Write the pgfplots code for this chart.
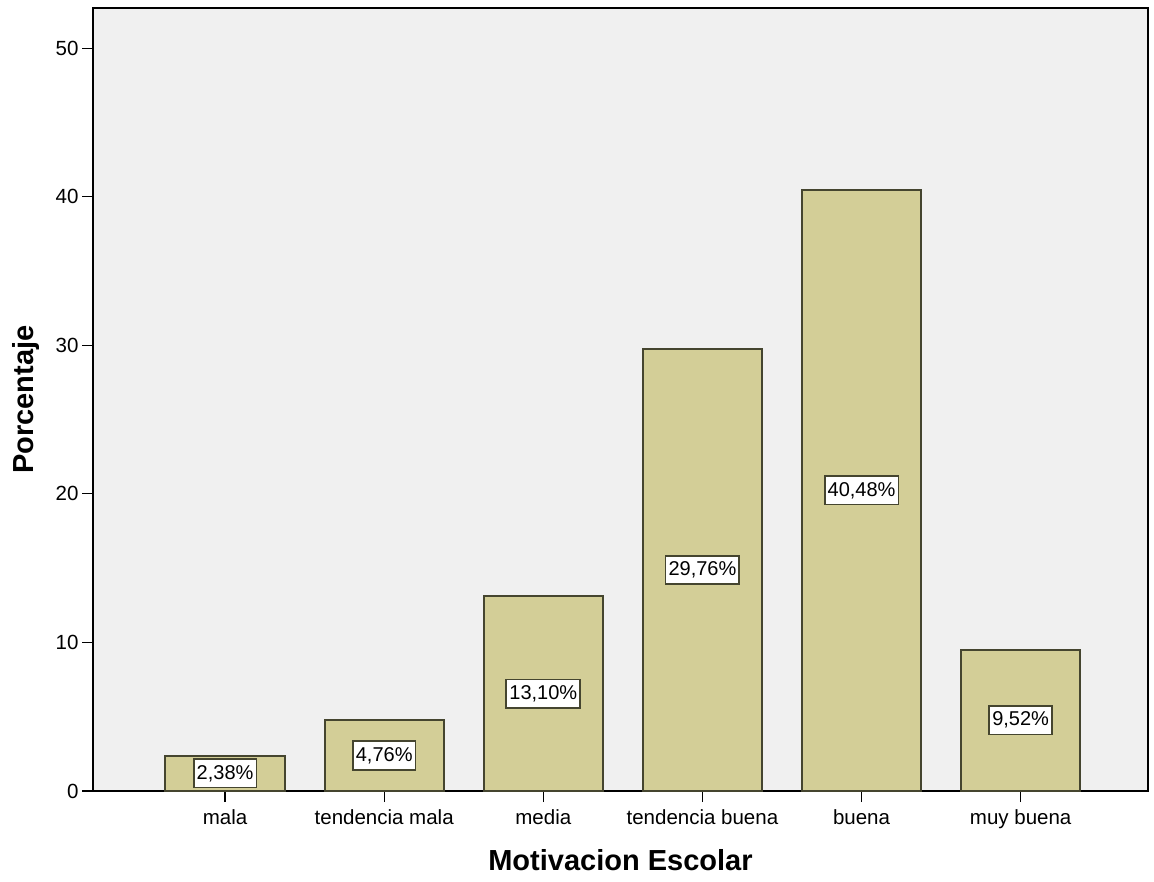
\documentclass[border=0pt]{standalone}
\usepackage{fontspec}
\setmainfont{Liberation Sans}
\usepackage{pgfplots}
\pgfplotsset{compat=1.18}
\definecolor{barfill}{HTML}{D3CE97}
\definecolor{baredge}{HTML}{45452F}
\definecolor{bg}{HTML}{F0F0F0}
\begin{document}
\begin{tikzpicture}[x=1pt,y=1pt]
\useasboundingbox (0,0) rectangle (1154,881);
\begin{axis}[
  at={(93pt,90pt)}, anchor=south west,
  width=1055pt, height=783pt, scale only axis,
  xmin=-0.83, xmax=5.8, ymin=0, ymax=52.7,
  axis background/.style={fill=bg},
  axis line style={black, line width=1.2pt},
  ybar, bar width=0.75,
  xtick={0,1,2,3,4,5},
  xticklabels={mala, tendencia mala, media, tendencia buena, buena, muy buena},
  ytick={0,10,20,30,40,50},
  xtick pos=bottom, ytick pos=left,
  tick align=outside, major tick length=11pt,
  tick style={black, line width=1.2pt},
  /pgf/number format/assume math mode=true,
  ticklabel style={font=\fontsize{20.5}{24}\selectfont},
  xticklabel style={yshift=-4pt},
  xlabel={Motivacion Escolar},
  ylabel={Porcentaje},
  xlabel style={font=\fontsize{29}{33}\selectfont\bfseries, yshift=-14pt},
  ylabel style={font=\fontsize{29}{33}\selectfont\bfseries, yshift=9pt},
  visualization depends on={y \as \rawy},
  nodes near coords={\pgfmathprintnumber[fixed,fixed zerofill,precision=2,use comma]{\pgfplotspointmeta}\%},
  every node near coord/.append style={anchor=center, yshift={-\rawy*7.43pt},
     fill=white, draw=baredge, line width=1.8pt, inner xsep=3pt, inner ysep=6pt,
     font=\fontsize{20}{23}\selectfont, text=black},
]
\addplot[fill=barfill, draw=baredge, line width=2pt] coordinates {
  (0,2.38) (1,4.76) (2,13.10) (3,29.76) (4,40.48) (5,9.52)
};
\end{axis}
\end{tikzpicture}
\end{document}
